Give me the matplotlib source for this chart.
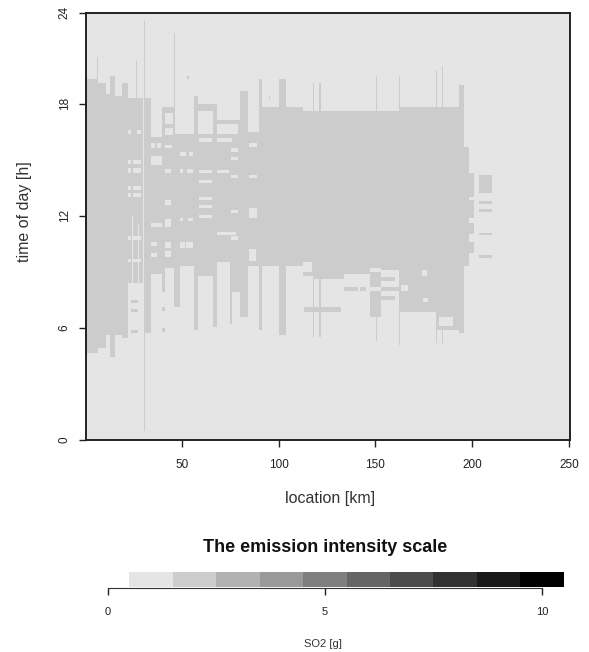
import matplotlib
matplotlib.use('Agg')
import matplotlib.pyplot as plt
from matplotlib.colors import ListedColormap
import numpy as np

plt.rcParams['font.family'] = ['Liberation Sans', 'DejaVu Sans']

# emission windows: (from km, to km, start hour, end hour)
windows = [
    (0.5, 6.5, 4.65, 19.3), (6.5, 11, 4.9, 19.1), (11, 13, 5.6, 18.5),
    (13, 15.5, 4.45, 19.5), (15.5, 19, 5.6, 18.4), (19, 22, 5.45, 19.1),
    (22, 30, 8.4, 18.3), (30.5, 31, 0.5, 22.4), (31, 34, 5.7, 18.3),
    (34, 40, 8.9, 16.2), (40, 41.5, 7.9, 17.8), (41.5, 46, 9.2, 17.8),
    (46, 46.5, 7.1, 21.8), (46.5, 49, 7.1, 16.4), (49, 56.5, 9.3, 16.4),
    (56.5, 58.5, 5.9, 18.4), (58.5, 66, 8.8, 16.35), (58.5, 66, 17.6, 18.0),
    (66, 68, 6.05, 18.0), (68, 75, 9.5, 17.1), (75, 76, 6.2, 17.1),
    (76, 80, 7.9, 17.1), (80, 84, 6.6, 18.7), (84, 90, 9.3, 16.5),
    (90, 91.5, 5.9, 19.3), (91.5, 100, 9.3, 17.8), (100, 104, 5.6, 19.3),
    (104, 112.5, 9.3, 17.8), (112.5, 117.5, 8.8, 17.6), (117.5, 118.5, 5.5, 19.1),
    (118.5, 121, 8.6, 17.6), (121, 122, 5.5, 19.1), (122, 134, 8.6, 17.6),
    (134, 147, 8.9, 17.6), (147, 153, 6.6, 17.6), (150.5, 151, 5.3, 19.5),
    (153, 162, 9.1, 17.6), (162, 162.5, 5.1, 19.5), (162.5, 181.5, 6.85, 17.8),
    (181.5, 182, 5.2, 19.8), (182, 184.5, 5.9, 17.8), (184.5, 185, 5.2, 20.0),
    (185, 193, 5.9, 17.8), (193, 196, 5.7, 19.0),
    (196, 198.5, 9.3, 15.7), (198.5, 201, 13.0, 14.3), (198.5, 201, 11.9, 12.85),
    (198.5, 201, 11.0, 11.6), (198.5, 201, 10.0, 10.6),
    (203.5, 210, 13.2, 14.2), (203.5, 210, 12.65, 12.8), (203.5, 210, 12.2, 12.35),
    (203.5, 210, 10.95, 11.1), (203.5, 210, 9.75, 9.9),
]

# short breaks inside the windows
pauses = [
    (22, 24, 16.4, 16.6), (27, 29, 16.4, 16.6),
    (22, 24, 14.75, 15.0), (25, 29, 14.75, 15.0),
    (22, 24, 14.3, 14.55), (25, 29, 14.3, 14.55),
    (22, 24, 13.4, 13.6), (25, 29, 13.4, 13.6),
    (22, 24, 13.0, 13.2), (25, 29, 13.0, 13.2),
    (22, 24, 10.7, 10.9), (25, 29, 10.7, 10.9),
    (22, 24, 9.5, 9.7), (25, 29, 9.5, 9.7),
    (24.5, 25, 8.4, 12.0), (27.5, 28, 8.4, 11.5),
    (34, 36, 15.6, 15.9), (37, 39, 15.6, 15.9), (34, 39.5, 14.7, 15.2),
    (34, 39.5, 11.4, 11.6), (34, 37, 10.4, 10.6), (34, 37, 9.8, 10.0),
    (41.5, 45.5, 16.9, 17.5), (41.5, 45.5, 16.3, 16.7), (41.5, 45, 15.6, 15.8),
    (41.5, 44.5, 14.3, 14.5), (41.5, 44.5, 12.6, 12.85), (41.5, 44.5, 11.4, 11.8),
    (41.5, 44.5, 10.3, 10.6), (41.5, 44.5, 9.8, 10.1),
    (49, 52, 15.2, 15.4), (53.5, 56, 15.2, 15.4),
    (49, 50.5, 14.3, 14.5), (52.5, 56, 14.3, 14.5),
    (49, 50.5, 11.7, 11.9), (53, 56, 11.7, 11.9),
    (49, 51.5, 10.3, 10.6), (52, 56, 10.25, 10.6),
    (59, 65.5, 15.95, 16.15), (59, 65.5, 14.3, 14.45), (59, 65.5, 13.75, 13.9),
    (59, 65.5, 12.85, 13.0), (59, 65.5, 12.4, 12.6), (59, 65.5, 11.9, 12.05),
    (68, 79, 16.4, 16.9), (68, 76, 15.95, 16.15), (68, 74.5, 14.3, 14.45),
    (68, 78, 10.95, 11.15),
    (75.5, 79, 15.4, 15.6), (75.5, 79, 15.0, 15.15), (75.5, 79, 14.0, 14.2),
    (75.5, 79, 12.15, 12.3), (75.5, 79, 10.7, 10.9),
    (84.5, 89, 15.7, 15.9), (84.5, 89, 14.0, 14.2), (84.5, 89, 11.9, 12.4),
    (84.5, 88.5, 9.6, 10.2),
    (112.5, 117, 9.0, 9.5), (147, 153, 9.0, 9.2), (147, 153, 8.0, 8.2),
    (163, 167, 8.0, 8.3), (174, 176.5, 8.8, 9.1), (174.5, 177, 7.4, 7.6),
    (183, 190, 6.1, 6.6),
]

# isolated short bursts outside the windows
bursts = [
    (6, 6.5, 18.0, 20.5), (26.5, 27, 18.0, 20.3), (52.5, 53.5, 19.3, 19.5),
    (95, 95.5, 18.2, 18.4),
    (23.5, 27.5, 7.35, 7.5), (23.5, 27.5, 6.85, 7.0), (23.5, 27.5, 5.7, 5.9),
    (40, 41.5, 6.9, 7.1), (40, 41.5, 5.8, 6.0),
    (113, 132, 6.85, 7.1), (134, 141, 8.0, 8.2), (142, 145, 8.0, 8.2),
    (153, 160, 8.5, 8.7), (153, 162, 8.0, 8.2), (153, 160, 7.5, 7.7),
]

level_background = 1
level_emission = 2

x_ticks = [50, 100, 150, 200, 250]
y_ticks = [0, 6, 12, 18, 22.87]
y_labels = ['0', '6', '12', '18', '24']
scale_levels = [0, 1, 2, 3, 4, 5, 6, 7, 8, 9, 10]
scale_ticks = [0, 5, 10]

# grid of 0.5 km by 0.05 h cells
km_edges = np.arange(0.5, 250.5 + 0.25, 0.5)
h_edges = np.arange(0, 22.87 + 0.025, 0.05)
km_mid = (km_edges[:-1] + km_edges[1:]) / 2
h_mid = (h_edges[:-1] + h_edges[1:]) / 2
grid = np.full((len(h_mid), len(km_mid)), level_background, dtype=float)


def paint(rects, level):
    for k0, k1, h0, h1 in rects:
        cols = (km_mid >= k0) & (km_mid < k1)
        rows = (h_mid >= h0) & (h_mid < h1)
        grid[np.ix_(rows, cols)] = level


paint(windows, level_emission)
paint(pauses, level_background)
paint(bursts, level_emission)

greys = ListedColormap([str(g) for g in np.linspace(1.0, 0.0, 11)])

fig = plt.figure(figsize=(5.89, 6.52), dpi=100)
ax = fig.add_axes([86 / 589, 1 - 440 / 652, 484 / 589, 427.3 / 652])
ax.imshow(grid, extent=(km_edges[0], km_edges[-1], h_edges[0], h_edges[-1]),
          origin='lower', cmap=greys, vmin=-0.5, vmax=10.5,
          interpolation='nearest', aspect='auto')
ax.set_xlim(0.5, 250.5)
ax.set_ylim(0, 22.87)
ax.set_xticks(x_ticks)
ax.set_yticks(y_ticks)
ax.set_yticklabels(y_labels, rotation=90, va='center')
ax.tick_params(length=5, width=1, labelsize=8.5, colors='#222222', pad=9)
ax.tick_params(axis='y', pad=6)
for s in ax.spines.values():
    s.set_linewidth(1.4)
    s.set_color('#222222')
ax.set_xlabel('location [km]', fontsize=11.5, color='#333333', va='center')
ax.xaxis.set_label_coords(0.504, -0.136)
ax.set_ylabel('time of day [h]', fontsize=11.5, color='#333333', va='center')
ax.yaxis.set_label_coords(-0.128, 0.534)

# intensity scale
cb = fig.add_axes([86 / 589, 1 - 587.5 / 652, 477.5 / 589, 15.5 / 652])
cb.imshow([scale_levels], extent=(-0.5, 10.5, 0, 1), cmap=greys,
          vmin=-0.5, vmax=10.5, aspect='auto', interpolation='nearest')
cb.set_xlim(-0.5, 10.5)
cb.set_ylim(0, 1)
cb.set_yticks([])
cb.set_xticks(scale_ticks)
cb.tick_params(axis='x', length=5, width=1, labelsize=8, colors='#222222', pad=9)
for side in ['top', 'left', 'right']:
    cb.spines[side].set_visible(False)
cb.spines['bottom'].set_bounds(0, 10)
cb.spines['bottom'].set_color('#333333')
cb.set_xlabel('SO2 [g]', fontsize=8, color='#333333', va='center')
cb.xaxis.set_label_coords(0.497, -3.65)
fig.text(325 / 589, 1 - 548 / 652, 'The emission intensity scale',
         ha='center', va='center', fontsize=13, fontweight='bold', color='#111111')

fig.savefig('out.png', dpi=100)
